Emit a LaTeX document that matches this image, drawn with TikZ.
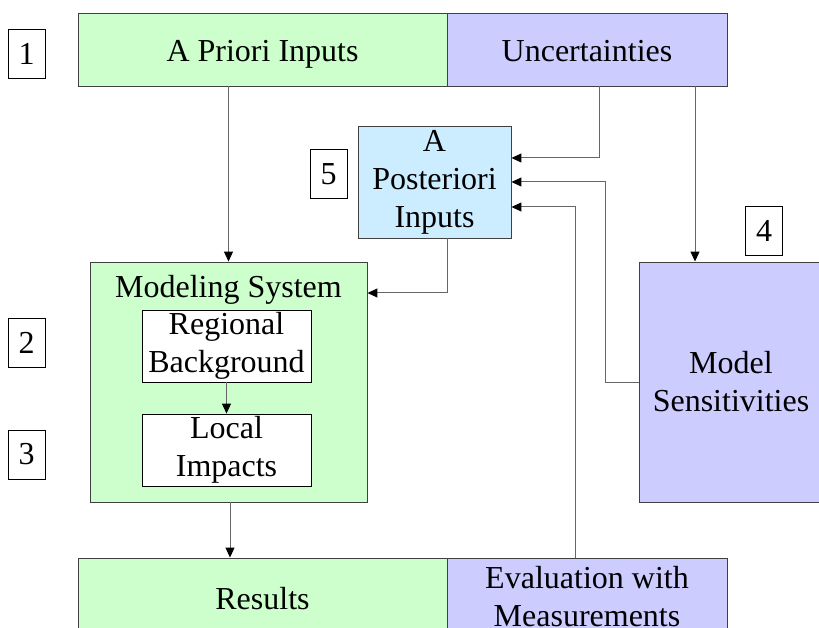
\documentclass[tikz,border=0pt]{standalone}
\usepackage{fontspec}
\setmainfont{Liberation Serif}
\usetikzlibrary{arrows.meta,calc,positioning}
\definecolor{skyfill}{HTML}{CCECFF}

\begin{document}
\begin{tikzpicture}[x=1pt,y=-1pt,
  box/.style={draw=black!75,line width=0.9pt,inner sep=0pt,align=center,
    font=\fontsize{32}{38}\selectfont},
  oneline/.style={text height=25pt,text depth=0pt},
  greenbox/.style={box,fill=green!20},
  violetbox/.style={box,fill=blue!20},
  whitebox/.style={box,fill=white,draw=black},
  numbox/.style={whitebox,minimum width=37pt,minimum height=49pt},
  link/.style={draw=black!60,line width=1pt,-{Triangle[length=10pt,width=9pt,color=black]}}]
\useasboundingbox (0,0) rectangle (819,628);
\clip (0,0) rectangle (819,628);

% Top row
\node[greenbox,oneline,minimum width=369pt,minimum height=73pt] (priori) at (262.5,49.5) {A Priori Inputs};
\node[violetbox,oneline,minimum width=280pt,minimum height=73pt] (unc) at (587,49.5) {Uncertainties};

% A posteriori inputs
\node[box,fill=skyfill,minimum width=153pt,minimum height=112pt] (post) at (434.5,182) {A\\Posteriori\\Inputs};

% Modeling system with its two stages
\node[greenbox,minimum width=277pt,minimum height=240pt] (modeling) at (228.5,382) {};
\node[box,oneline,draw=none] (modtitle) at (228.5,285) {Modeling System};
\node[whitebox,minimum width=169pt,minimum height=72pt] (regional) at (226.5,346) {Regional\\Background};
\node[whitebox,minimum width=169pt,minimum height=72pt] (local) at (226.5,450) {Local\\Impacts};

% Sensitivities
\node[violetbox,minimum width=184pt,minimum height=240pt] (sens) at (731,382) {Model\\Sensitivities};

% Bottom row
\node[greenbox,oneline,minimum width=369pt,minimum height=78pt] (results) at (262.5,597) {Results};
\node[violetbox,minimum width=280pt,minimum height=78pt] (eval) at (587,597) {Evaluation with\\Measurements};

% Step numbers
\node[numbox] (num1) at (26.5,53.5) {1};
\node[numbox] (num2) at (26.5,342.5) {2};
\node[numbox] (num3) at (26.5,454.5) {3};
\node[numbox] (num4) at (764,230.5) {4};
\node[numbox] (num5) at (328.5,174) {5};

% Connectors
\coordinate (uncleft) at ($(unc.south)+(12,0)$);
\coordinate (uncright) at ($(unc.south)+(108,0)$);
\coordinate (evalup) at ($(eval.north)+(-12,0)$);
\coordinate (postdown) at ($(post.south)+(12.5,0)$);
\coordinate (moddown) at ($(modeling.south)+(1.5,0)$);
\draw[link] (modeling.north |- priori.south) -- (modeling.north);
\draw[link] (uncleft) |- ($(post.east)+(0,-24)$);
\draw[link] (uncright) -- (uncright |- sens.north);
\draw[link] (sens.west) -- ++(-33,0) |- (post.east);
\draw[link] (evalup) |- ($(post.east)+(0,25)$);
\draw[link] (postdown) |- ($(modeling.east)+(0,-89)$);
\draw[link] (regional.south) -- (local.north);
\draw[link] (moddown) -- (moddown |- results.north);
\end{tikzpicture}
\end{document}
